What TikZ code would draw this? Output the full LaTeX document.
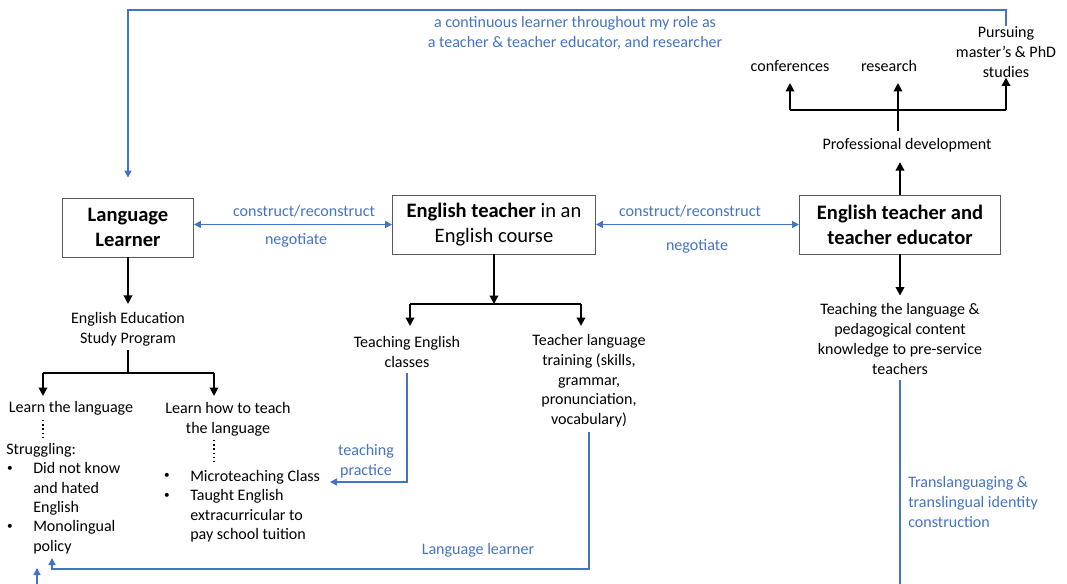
\documentclass[tikz,border=0pt]{standalone}
\usepackage{fontspec}
\setmainfont{Carlito}
\usetikzlibrary{arrows.meta}
\usetikzlibrary{positioning}
\definecolor{linkblue}{RGB}{68,114,196}
\tikzset{
    rolebox/.style={draw=gray!70!black, line width=0.6pt, minimum height=1.475cm,
        align=center, inner sep=2pt, font=\fontsize{14.6}{17.8}\selectfont}}
\tikzset{
    txt/.style={align=center, inner sep=0pt, font=\fontsize{11.4}{14}\selectfont},
    bluetxt/.style={txt, text=linkblue},
    bullet/.style={inner sep=0pt, font=\fontsize{8}{8}\selectfont},
    thickline/.style={line width=1.4pt},
    blackarrow/.style={thickline, -{Triangle[width=6pt,length=6pt]}},
    bluearrow/.style={linkblue, line width=1.1pt, -{Triangle[width=5pt,length=5pt]}},
    dotline/.style={line width=1pt, dotted} }

\begin{document}
\begin{tikzpicture}[x=0.025cm, y=-0.025cm]
  \useasboundingbox (0,0) rectangle (1067,584);

  % main role boxes
  \node[rolebox, minimum width=3.275cm] (learner) at (128,227.5) {\textbf{Language}\\\textbf{Learner}};
  \node[rolebox, minimum width=5.075cm] (course) at (494,224.5) {\textbf{English teacher} in an\\English course};
  \node[rolebox, minimum width=5.025cm] (educator) at (900,224.5) {\textbf{English teacher and}\\\textbf{teacher educator}};

  \draw[bluearrow, {Triangle[width=5pt,length=5pt]}-{Triangle[width=5pt,length=5pt]}] (learner.east |- course.west) -- (course.west);
  \draw[bluearrow, {Triangle[width=5pt,length=5pt]}-{Triangle[width=5pt,length=5pt]}] (course.east) -- (educator.west);
  \node[bluetxt] (cr1) at (304,211) {construct/reconstruct};
  \node[bluetxt] (neg1) at (296,240) {negotiate};
  \node[bluetxt] (cr2) at (690,211) {construct/reconstruct};
  \node[bluetxt] (neg2) at (697,246) {negotiate};

  % professional development
  \node[txt] (profdev) at (907,145) {Professional development};
  \node[txt] (conf) at (790,66) {conferences};
  \node[txt] (research) at (889,66) {research};
  \node[txt] (pursue) at (1006,52) {Pursuing\\master’s \& PhD\\studies};
  \coordinate (pdjoin) at (898,110);
  \draw[blackarrow, shorten >=0.25cm] (educator.north) -- (educator.north |- profdev.south);
  \draw[thickline, shorten <=0.18cm] (profdev.north -| pdjoin) -- (pdjoin);
  \draw[thickline] (pdjoin -| conf) -- (pdjoin -| pursue.south);
  \draw[blackarrow] (pdjoin -| conf) -- (790,83);
  \draw[blackarrow] (pdjoin) -- (898,83);
  \draw[blackarrow] (pdjoin -| pursue.south) -- (pursue.south);

  % loop back to the learner
  \coordinate (topline) at (0,10);
  \draw[bluearrow, shorten >=0.5cm] (pursue.north) -- (pursue.north |- topline) -| (learner.north);
  \node[bluetxt] (looptxt) at (575,33) {a continuous learner throughout my role as\\a teacher \& teacher educator, and researcher};

  % teacher educator branch
  \node[txt] (teachpck) at (900,339) {Teaching the language \&\\pedagogical content\\knowledge to pre-service\\teachers};
  \draw[blackarrow, shorten >=0.2cm] (educator.south) -- (teachpck.north);
  \node[bluetxt, anchor=west, align=left] (transl) at (908,502) {Translanguaging \&\\translingual identity\\construction};
  \coordinate (br) at (900,610);
  \coordinate (bl) at (37,610);
  \coordinate (blend) at (37,568);
  \draw[bluearrow, shorten <=0.15cm] (teachpck.south) -- (br) -- (bl) -- (blend);

  % English course branch
  \coordinate (cjoin) at (494,304);
  \node[txt] (teachcls) at (407,352) {Teaching English\\classes};
  \node[txt] (training) at (589,381) {Teacher language\\training (skills,\\grammar,\\pronunciation,\\vocabulary)};
  \draw[blackarrow] (course.south) -- (cjoin);
  \draw[thickline] (410,304) -- (581,304);
  \draw[blackarrow] (410,304) -- (410,326);
  \draw[blackarrow] (581,304) -- (581,326);

  % language learner branch
  \node[txt] (eesp) at (128,329) {English Education\\Study Program};
  \coordinate (ljoin) at (128,373);
  \draw[blackarrow, shorten >=0.2cm] (learner.south) -- (eesp.north);
  \draw[thickline, shorten <=0.1cm] (eesp.south) -- (ljoin);
  \draw[thickline] (43,373) -- (214,373);
  \node[txt] (learnlang) at (71,408) {Learn the language};
  \node[txt] (learnteach) at (228,419) {Learn how to teach\\the language};
  \draw[blackarrow] (43,373) -- (43,396);
  \draw[blackarrow] (214,373) -- (214,396);
  \draw[dotline] (43,420) -- (43,440);
  \draw[dotline] (214,440) -- (214,462);

  \node[txt, anchor=west] (struggle) at (6,450) {Struggling:};
  \node[bullet] (dot1) at (10,469) {•};
  \node[txt, anchor=north west, align=left] (item1) at (33,462) {Did not know\\and hated\\English};
  \node[bullet] (dot2) at (10,527) {•};
  \node[txt, anchor=north west, align=left] (item2) at (33,520) {Monolingual\\policy};

  \node[bullet] (dot3) at (167,476) {•};
  \node[txt, anchor=west] (micro) at (190,477) {Microteaching Class};
  \node[bullet] (dot4) at (167,496) {•};
  \node[txt, anchor=north west, align=left] (taught) at (190,489) {Taught English\\extracurricular to\\pay school tuition};

  % teaching practice and language learner feedback
  \coordinate (tpcorner) at (407,482);
  \draw[bluearrow, shorten <=0.12cm] (teachcls.south) -- (tpcorner) -- (330,482);
  \node[bluetxt] (tptxt) at (366,461) {teaching\\practice};
  \coordinate (llcorner) at (589,569);
  \coordinate (llend) at (52,569);
  \draw[bluearrow, shorten <=0.1cm] (training.south) -- (llcorner) -- (llend) -- (52,558);
  \node[bluetxt] (lltxt) at (478,550) {Language learner};
\end{tikzpicture}
\end{document}
